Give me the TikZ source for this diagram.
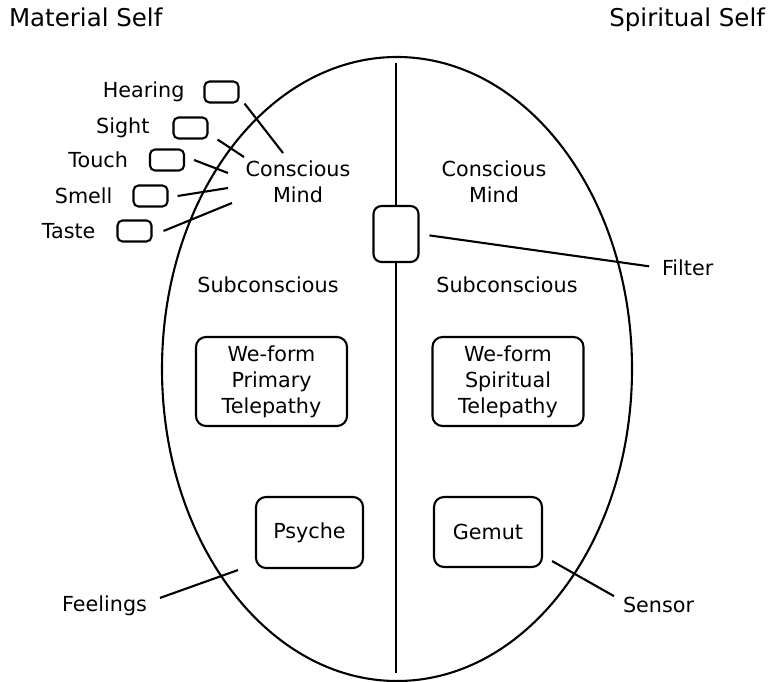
\documentclass[tikz,border=0pt]{standalone}
\usepackage{fontspec}
\setmainfont{DejaVu Sans}
\usetikzlibrary{positioning}

\begin{document}
\begin{tikzpicture}[x=1pt,y=-1pt,line width=2.1pt,
    txt/.style={font=\fontsize{20.7}{26}\selectfont,inner sep=0pt,align=center},
    head/.style={font=\fontsize{24.5}{29}\selectfont,inner sep=0pt},
    sense/.style={draw,rounded corners=5pt,minimum width=34pt,minimum height=21pt,inner sep=0pt},
    part/.style={txt,draw,rounded corners=10pt}]
  \useasboundingbox (0,0) rectangle (768,682);

  % the self, split in two halves
  \draw (397,369) ellipse [x radius=235, y radius=312];
  \coordinate (top) at (396,63);
  \coordinate (bot) at (396,673);
  \node[draw,rounded corners=8pt,minimum width=45pt,minimum height=56pt] (fbox) at (396,234) {};
  \draw (top) -- (fbox.north);
  \draw (fbox.south) -- (bot);

  \node[head,anchor=base west] (mat) at (8,27) {Material Self};
  \node[head,anchor=base east] (spi) at (766,27) {Spiritual Self};

  \node[txt] (cml) at (298,182) {Conscious\\Mind};
  \node[txt] (cmr) at (494,182) {Conscious\\Mind};
  \node[txt,anchor=base] (scl) at (268,292) {Subconscious};
  \node[txt,anchor=base] (scr) at (507,292) {Subconscious};

  \node[part,minimum width=151pt,minimum height=89pt] (wfp) at (271.5,381.5) {We-form\\Primary\\Telepathy};
  \node[part,minimum width=151pt,minimum height=89pt] (wfs) at (508,381.5) {We-form\\Spiritual\\Telepathy};
  \node[part,minimum width=107pt,minimum height=71pt] (psy) at (309.5,532.5) {Psyche};
  \node[part,minimum width=108pt,minimum height=70pt] (gem) at (488,532) {Gemut};

  % senses
  \node[sense] (hrbox) at (221.5,92) {};
  \node[sense] (sibox) at (190.5,128) {};
  \node[sense] (tobox) at (167,160) {};
  \node[sense] (smbox) at (150.5,196) {};
  \node[sense] (tabox) at (134.5,231) {};
  \node[txt,left=18pt of hrbox] (hr) {Hearing};
  \node[txt,left=22pt of sibox] (si) {Sight};
  \node[txt,left=20pt of tobox] (to) {Touch};
  \node[txt,left=19pt of smbox] (sm) {Smell};
  \node[txt,left=20pt of tabox] (ta) {Taste};

  \coordinate (hr-in) at (283,153);
  \coordinate (si-in) at (244,157);
  \coordinate (to-in) at (228,173);
  \coordinate (sm-in) at (228,188);
  \coordinate (ta-in) at (232,203);
  \draw ([xshift=5pt]hrbox.south east) -- (hr-in);
  \draw ([xshift=9pt]sibox.south east) -- (si-in);
  \draw ([xshift=9pt]tobox.east) -- (to-in);
  \draw ([xshift=9pt]smbox.east) -- (sm-in);
  \draw ([xshift=11pt]tabox.east) -- (ta-in);

  % outer labels
  \node[txt,anchor=west] (flt) at (661,268) {Filter};
  \node[txt,anchor=east] (fee) at (148,606) {Feelings};
  \node[txt,anchor=west] (sen) at (622,605) {Sensor};
  \draw[shorten <=10pt,shorten >=12pt] (fbox.east) -- (flt.west);
  \draw ([shift={(12pt,-3pt)}]fee.north east) -- ([shift={(-17pt,-1pt)}]psy.south west);
  \draw ([shift={(9pt,7pt)}]gem.south east) -- ([xshift=-8pt]sen.north west);
\end{tikzpicture}
\end{document}
